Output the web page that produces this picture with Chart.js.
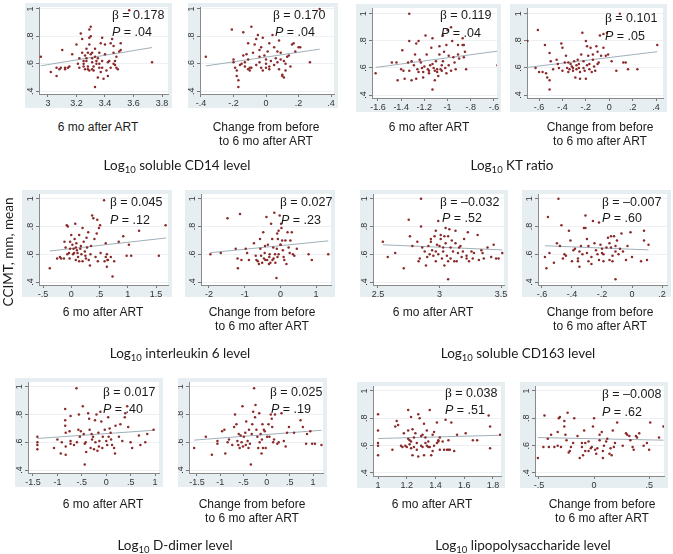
<!DOCTYPE html>
<html><head><meta charset="utf-8">
<script src="https://cdn.jsdelivr.net/npm/chart.js@4.4.1/dist/chart.umd.min.js"></script>
<style>
body{margin:0;width:673px;height:554px;position:relative;background:#fff;overflow:hidden;font-family:"Liberation Sans",Arial,sans-serif;color:#1a1a1a}
canvas{position:absolute}
.t{position:absolute;white-space:nowrap;font-size:12px;transform:translate(-50%,-50%);text-align:center;line-height:14px}
.ann{position:absolute;white-space:nowrap;font-size:12.5px;transform:translateY(-50%)}
.ann .b{font-family:"Liberation Serif","DejaVu Serif",serif;font-size:13.5px}
.title{position:absolute;white-space:nowrap;font-family:Lato,"Open Sans",sans-serif;font-size:13.5px;transform:translate(-50%,-50%)}
.title sub{font-size:9.5px;vertical-align:-3px;line-height:0}
.ylab{position:absolute;white-space:nowrap;font-family:Lato,"Open Sans",sans-serif;font-size:13.5px;transform:translate(-50%,-50%) rotate(-90deg)}
</style></head><body>
<script>
// ---------------- DATA ----------------
const yTicks = [0.4, 0.6, 0.8, 1];

const sCD14_6mo = [[2.95,0.65],[3.02,0.54],[3.06,0.57],[3.06,0.51],[3.08,0.56],[3.09,0.57],[3.10,0.70],[3.12,0.57],[3.14,0.57],[3.17,0.67],[3.20,0.74],[3.22,0.64],[3.22,0.57],[3.23,0.82],[3.24,0.78],[3.24,0.68],[3.25,0.62],[3.25,0.60],[3.26,0.56],[3.27,0.71],[3.27,0.64],[3.27,0.62],[3.28,0.58],[3.28,0.56],[3.29,0.55],[3.29,0.85],[3.30,0.87],[3.30,0.80],[3.29,0.79],[3.29,0.74],[3.30,0.67],[3.31,0.64],[3.31,0.61],[3.32,0.58],[3.32,0.55],[3.33,0.71],[3.33,0.65],[3.34,0.62],[3.34,0.60],[3.35,0.50],[3.36,0.68],[3.36,0.57],[3.37,0.75],[3.37,0.54],[3.38,0.62],[3.38,0.57],[3.39,0.49],[3.40,0.67],[3.40,0.74],[3.41,0.55],[3.42,0.51],[3.43,0.62],[3.44,0.57],[3.44,0.75],[3.45,0.78],[3.46,0.60],[3.46,0.68],[3.47,0.59],[3.47,0.62],[3.48,0.65],[3.48,0.57],[3.49,0.56],[3.50,0.69],[3.51,0.75],[3.51,0.70],[3.33,0.43],[3.73,0.61],[3.46,0.73],[3.38,0.79],[3.31,0.68],[3.26,0.66],[3.21,0.60],[3.15,0.58],[3.12,0.56],[3.35,0.64],[3.28,0.68],[3.42,0.61],[3.31,0.56],[3.25,0.58],[3.36,0.60],[3.57,0.99]];
const sCD14_chg = [[-0.37,0.65],[-0.21,0.85],[-0.14,0.83],[-0.09,0.87],[-0.20,0.63],[-0.20,0.61],[-0.19,0.57],[-0.18,0.55],[-0.18,0.51],[-0.17,0.48],[-0.17,0.43],[-0.14,0.66],[-0.13,0.61],[-0.12,0.67],[-0.11,0.63],[-0.11,0.75],[-0.11,0.56],[-0.10,0.57],[-0.10,0.55],[-0.09,0.57],[-0.07,0.74],[-0.06,0.78],[-0.05,0.81],[-0.04,0.70],[-0.04,0.65],[-0.04,0.61],[-0.03,0.57],[-0.02,0.55],[-0.02,0.79],[-0.01,0.66],[0.00,0.63],[0.00,0.60],[0.00,0.57],[0.01,0.69],[0.02,0.75],[0.02,0.58],[0.02,0.56],[0.04,0.81],[0.05,0.72],[0.06,0.64],[0.07,0.61],[0.07,0.69],[0.08,0.56],[0.08,0.77],[0.09,0.63],[0.10,0.51],[0.10,0.52],[0.11,0.50],[0.12,0.60],[0.12,0.55],[0.13,0.65],[0.14,0.66],[0.15,0.58],[0.16,0.74],[0.17,0.75],[0.18,0.69],[0.20,0.72],[0.21,0.72],[0.27,0.61],[0.33,1.00],[-0.16,0.59],[-0.06,0.59],[0.03,0.62],[-0.13,0.58],[0.05,0.59],[-0.08,0.68],[0.11,0.62],[-0.15,0.60],[0.09,0.68],[-0.03,0.72]];
const kt_6mo = [[-1.62,0.56],[-1.48,0.64],[-1.44,0.64],[-1.43,0.51],[-1.40,0.59],[-1.39,0.73],[-1.38,0.58],[-1.37,0.52],[-1.33,1.00],[-1.34,0.64],[-1.33,0.80],[-1.33,0.58],[-1.31,0.65],[-1.31,0.51],[-1.29,0.62],[-1.28,0.70],[-1.27,0.78],[-1.27,0.52],[-1.26,0.59],[-1.25,0.80],[-1.24,0.66],[-1.23,0.64],[-1.22,0.60],[-1.21,0.57],[-1.21,0.53],[-1.19,0.84],[-1.18,0.70],[-1.17,0.59],[-1.16,0.58],[-1.16,0.56],[-1.14,0.75],[-1.13,0.82],[-1.13,0.63],[-1.12,0.60],[-1.11,0.51],[-1.11,0.58],[-1.10,0.65],[-1.09,0.59],[-1.09,0.57],[-1.08,0.54],[-1.13,0.44],[-1.07,0.76],[-1.07,0.70],[-1.06,0.59],[-1.05,0.58],[-1.04,0.84],[-1.04,0.65],[-1.03,0.72],[-1.02,0.60],[-1.01,0.56],[-1.01,0.77],[-1.00,0.88],[-0.99,0.69],[-0.99,0.62],[-0.97,0.90],[-0.96,0.80],[-0.95,0.68],[-0.94,0.64],[-0.93,0.59],[-0.91,0.77],[-0.91,0.70],[-0.90,0.67],[-0.87,0.77],[-0.87,0.82],[-0.86,0.77],[-0.85,0.72],[-0.84,0.59],[-0.86,0.68],[-0.57,0.62],[-1.15,0.62],[-1.05,0.62],[-1.20,0.61],[-0.97,0.58],[-1.25,0.57]];
const kt_chg = [[-0.70,0.80],[-0.61,0.88],[-0.63,0.60],[-0.60,0.57],[-0.57,0.57],[-0.55,0.77],[-0.54,0.56],[-0.53,0.53],[-0.51,0.71],[-0.51,0.51],[-0.51,0.44],[-0.50,0.65],[-0.48,0.59],[-0.45,0.66],[-0.44,0.63],[-0.43,0.60],[-0.41,0.78],[-0.40,0.58],[-0.40,0.75],[-0.38,0.64],[-0.37,0.69],[-0.36,0.60],[-0.35,0.64],[-0.35,0.57],[-0.34,0.59],[-0.33,0.63],[-0.31,0.60],[-0.31,0.58],[-0.30,0.65],[-0.29,0.53],[-0.28,0.62],[-0.28,0.59],[-0.27,0.66],[-0.26,0.60],[-0.25,0.57],[-0.25,0.52],[-0.24,0.70],[-0.23,0.86],[-0.22,0.65],[-0.22,0.60],[-0.21,0.58],[-0.20,0.52],[-0.20,0.80],[-0.19,0.76],[-0.18,0.69],[-0.17,0.63],[-0.17,0.59],[-0.16,0.75],[-0.15,0.57],[-0.14,0.66],[-0.14,0.70],[-0.12,0.58],[-0.11,0.76],[-0.10,0.72],[-0.10,0.63],[-0.09,0.64],[-0.08,0.84],[-0.07,0.69],[-0.05,0.85],[-0.05,0.75],[-0.03,0.69],[-0.02,0.86],[-0.01,0.70],[0.02,0.65],[0.06,0.58],[0.09,1.00],[0.12,0.64],[0.14,0.64],[0.16,0.59],[0.24,0.59],[0.41,0.77],[-0.26,0.63],[-0.32,0.61],[-0.19,0.62],[-0.13,0.61]];
const il6_6mo = [[-0.38,0.50],[-0.25,0.57],[-0.20,0.58],[-0.18,0.57],[-0.12,0.69],[-0.13,0.57],[-0.10,0.65],[-0.08,0.81],[-0.07,0.60],[-0.06,0.80],[-0.04,0.61],[-0.02,0.64],[-0.02,0.69],[0.00,0.74],[0.02,0.67],[0.04,0.64],[0.05,0.61],[0.06,0.71],[0.07,0.82],[0.08,0.65],[0.09,0.68],[0.11,0.61],[0.12,0.58],[0.14,0.74],[0.14,0.55],[0.17,0.66],[0.18,0.60],[0.20,0.79],[0.20,0.55],[0.22,0.69],[0.24,0.62],[0.25,0.59],[0.27,0.72],[0.28,0.65],[0.30,0.76],[0.31,0.56],[0.33,0.52],[0.34,0.60],[0.37,0.88],[0.39,0.86],[0.41,0.71],[0.43,0.58],[0.45,0.75],[0.46,0.85],[0.47,0.55],[0.49,0.79],[0.51,0.81],[0.52,0.61],[0.59,0.55],[0.61,0.68],[0.63,0.60],[0.64,0.56],[0.58,0.99],[0.61,0.58],[0.63,0.51],[0.65,0.56],[0.70,0.58],[0.73,0.44],[0.76,0.55],[0.84,0.69],[0.92,0.73],[0.98,0.59],[1.02,0.67],[1.06,0.59],[1.20,0.77],[1.55,0.59],[1.67,0.81],[0.10,0.63],[0.03,0.60],[0.16,0.64],[-0.03,0.57],[0.26,0.57],[0.08,0.56],[0.35,0.66]];
const il6_chg = [[-1.96,0.60],[-1.67,0.61],[-1.48,0.86],[-1.13,0.89],[-1.25,0.64],[-1.20,0.57],[-1.19,0.50],[-1.09,0.56],[-0.97,0.64],[-0.93,0.61],[-0.88,0.56],[-0.74,0.68],[-0.69,0.59],[-0.67,0.56],[-0.63,0.55],[-0.60,0.53],[-0.57,0.71],[-0.56,0.64],[-0.54,0.59],[-0.51,0.54],[-0.48,0.76],[-0.46,0.57],[-0.44,0.61],[-0.42,0.56],[-0.39,0.87],[-0.37,0.56],[-0.35,0.67],[-0.32,0.53],[-0.30,0.60],[-0.28,0.54],[-0.26,0.82],[-0.23,0.71],[-0.20,0.65],[-0.19,0.57],[-0.17,0.90],[-0.14,0.54],[-0.11,0.43],[-0.09,0.75],[-0.07,0.71],[-0.05,0.77],[-0.05,0.60],[-0.02,0.88],[0.00,0.67],[0.02,0.82],[0.05,0.70],[0.07,0.63],[0.09,0.58],[0.11,0.56],[0.14,0.70],[0.17,0.53],[0.20,0.76],[0.23,0.65],[0.26,0.61],[0.28,0.70],[0.32,0.76],[0.35,0.60],[0.39,0.59],[0.46,0.64],[0.79,0.60],[0.88,0.56],[1.34,0.60],[-0.10,0.64],[-0.15,0.60],[0.03,0.79],[-0.31,0.58],[-0.43,0.66],[-0.22,0.56],[0.01,0.67],[-0.08,0.58]];
const sCD163_6mo = [[2.54,0.69],[2.58,0.58],[2.64,0.61],[2.71,0.50],[2.75,0.85],[2.76,0.73],[2.78,0.66],[2.82,0.69],[2.83,0.55],[2.84,0.57],[2.85,1.00],[2.85,0.80],[2.86,0.65],[2.88,0.62],[2.89,0.52],[2.90,0.58],[2.91,0.66],[2.92,0.60],[2.93,0.71],[2.93,0.69],[2.94,0.63],[2.95,0.59],[2.96,0.73],[2.97,0.55],[2.97,0.77],[2.98,0.67],[2.99,0.84],[2.99,0.60],[3.00,0.66],[3.01,0.74],[3.01,0.71],[3.02,0.57],[3.03,0.65],[3.04,0.52],[3.04,0.73],[3.05,0.79],[3.05,0.68],[3.06,0.59],[3.07,0.42],[3.07,0.55],[3.07,0.73],[3.08,0.78],[3.09,0.65],[3.09,0.57],[3.11,0.62],[3.12,0.55],[3.13,0.68],[3.13,0.77],[3.14,0.55],[3.15,0.61],[3.16,0.65],[3.18,0.58],[3.19,0.62],[3.20,0.71],[3.22,0.57],[3.22,0.59],[3.23,0.76],[3.24,0.55],[3.26,0.62],[3.27,0.57],[3.28,0.61],[3.31,0.74],[3.32,0.56],[3.34,0.63],[3.35,0.61],[3.36,0.57],[3.39,0.65],[3.42,0.58],[3.44,0.67],[3.46,0.57],[3.48,0.57],[3.51,0.61],[3.03,0.62],[2.97,0.62],[3.10,0.70],[3.17,0.66]];
const sCD163_chg = [[-0.58,0.58],[-0.57,0.50],[-0.56,0.87],[-0.55,0.61],[-0.52,0.54],[-0.50,0.68],[-0.49,1.00],[-0.48,0.66],[-0.47,0.81],[-0.46,0.57],[-0.45,0.60],[-0.42,0.77],[-0.41,0.70],[-0.40,0.55],[-0.39,0.63],[-0.38,0.64],[-0.36,0.55],[-0.36,0.57],[-0.35,0.51],[-0.34,0.66],[-0.33,0.60],[-0.32,0.79],[-0.31,0.88],[-0.31,0.79],[-0.30,0.61],[-0.30,0.71],[-0.29,0.55],[-0.29,0.66],[-0.27,0.53],[-0.27,0.58],[-0.26,0.84],[-0.25,0.68],[-0.24,0.63],[-0.23,0.60],[-0.22,0.56],[-0.22,0.83],[-0.21,0.67],[-0.20,0.61],[-0.19,0.60],[-0.19,0.55],[-0.17,0.65],[-0.16,0.72],[-0.15,0.68],[-0.15,0.56],[-0.14,0.73],[-0.14,0.65],[-0.13,0.59],[-0.13,0.55],[-0.12,0.73],[-0.11,0.62],[-0.11,0.42],[-0.11,0.66],[-0.10,0.70],[-0.09,0.60],[-0.07,0.75],[-0.06,0.62],[-0.04,0.56],[-0.03,0.66],[-0.01,0.76],[0.00,0.58],[0.06,0.55],[0.08,0.77],[0.08,0.70],[0.10,0.56],[0.11,0.67],[-0.20,0.64],[-0.35,0.62],[-0.44,0.59],[-0.08,0.64]];
const ddimer_6mo = [[-1.41,0.64],[-1.41,0.60],[-1.41,0.58],[-1.41,0.55],[-1.07,0.56],[-1.00,0.62],[-0.93,0.52],[-0.91,0.60],[-0.84,0.84],[-0.84,0.76],[-0.84,0.72],[-0.83,0.67],[-0.83,0.57],[-0.83,0.51],[-0.75,0.68],[-0.73,0.61],[-0.73,0.59],[-0.73,0.79],[-0.66,0.58],[-0.61,0.99],[-0.57,0.69],[-0.56,0.80],[-0.54,0.64],[-0.52,0.68],[-0.48,0.86],[-0.46,0.66],[-0.44,0.59],[-0.42,0.60],[-0.41,0.53],[-0.37,0.81],[-0.35,0.77],[-0.34,0.69],[-0.32,0.56],[-0.30,0.66],[-0.29,0.62],[-0.25,0.55],[-0.23,0.76],[-0.22,0.60],[-0.20,0.80],[-0.18,0.54],[-0.16,0.67],[-0.15,0.57],[-0.14,0.61],[-0.12,0.82],[-0.10,0.75],[-0.08,0.56],[-0.07,0.64],[-0.03,0.69],[0.00,0.61],[0.02,0.58],[0.04,0.78],[0.05,0.64],[0.07,0.70],[0.09,0.67],[0.12,0.58],[0.16,0.56],[0.18,0.52],[0.19,0.72],[-0.44,0.44],[0.26,0.64],[0.29,0.73],[0.33,0.61],[0.38,0.78],[0.39,0.81],[0.43,0.86],[0.45,0.71],[0.50,0.60],[0.53,0.56],[0.67,0.65],[0.70,0.58],[0.80,0.60],[0.84,0.66],[0.97,0.69],[-0.60,0.60],[-0.27,0.64],[0.10,0.62]];
const ddimer_chg = [[-1.56,0.56],[-1.31,0.64],[-1.18,0.51],[-1.06,0.61],[-1.06,0.59],[-0.96,0.68],[-0.91,0.69],[-0.89,0.52],[-0.84,0.60],[-0.81,0.62],[-0.74,0.58],[-0.70,0.71],[-0.68,0.80],[-0.65,0.73],[-0.63,0.61],[-0.61,0.58],[-0.58,0.56],[-0.56,0.65],[-0.54,0.60],[-0.52,0.86],[-0.51,0.57],[-0.49,0.64],[-0.46,0.67],[-0.44,0.75],[-0.41,0.61],[-0.39,0.56],[-0.38,0.69],[-0.36,0.59],[-0.34,0.44],[-0.32,0.66],[-0.31,0.73],[-0.29,0.82],[-0.27,0.99],[-0.25,0.78],[-0.24,0.87],[-0.22,0.69],[-0.20,0.64],[-0.18,0.56],[-0.16,0.81],[-0.15,0.60],[-0.13,0.66],[-0.11,0.52],[-0.09,0.73],[-0.08,0.56],[-0.06,0.69],[-0.04,0.68],[-0.02,0.56],[0.01,0.64],[0.04,0.73],[0.06,0.64],[0.09,0.80],[0.11,0.77],[0.12,0.71],[0.14,0.60],[0.16,0.62],[0.18,0.80],[0.23,0.59],[0.26,0.60],[0.32,0.81],[0.37,0.61],[0.41,0.57],[0.44,0.67],[0.48,0.71],[0.59,0.67],[0.73,0.76],[0.78,0.71],[0.85,0.59],[0.87,0.66],[0.94,0.68],[0.98,0.59],[1.04,0.59],[1.18,0.58],[-0.45,0.58],[-0.10,0.62],[-0.60,0.66]];
const lps_6mo = [[1.00,0.83],[1.00,0.71],[1.00,0.62],[1.00,0.60],[1.00,0.53],[1.10,0.57],[1.12,0.74],[1.13,0.78],[1.14,0.75],[1.16,0.60],[1.17,0.59],[1.18,0.69],[1.19,0.60],[1.20,0.59],[1.21,0.71],[1.21,0.86],[1.21,0.65],[1.22,0.64],[1.23,0.63],[1.23,0.58],[1.23,0.81],[1.24,0.72],[1.24,0.53],[1.25,0.66],[1.25,0.59],[1.26,0.69],[1.27,0.57],[1.28,0.83],[1.28,0.52],[1.29,0.80],[1.30,0.67],[1.30,0.60],[1.31,0.68],[1.31,0.59],[1.32,0.76],[1.32,0.53],[1.33,0.66],[1.34,0.60],[1.34,0.71],[1.35,0.59],[1.35,0.63],[1.36,0.86],[1.36,0.59],[1.37,0.53],[1.38,0.56],[1.38,0.68],[1.39,0.70],[1.39,0.60],[1.41,0.77],[1.41,0.62],[1.42,0.64],[1.42,0.63],[1.43,0.57],[1.43,0.66],[1.45,0.63],[1.46,0.57],[1.47,0.79],[1.48,0.57],[1.49,0.64],[1.49,0.57],[1.50,0.57],[1.51,0.77],[1.53,0.56],[1.55,0.68],[1.61,0.69],[1.66,0.64],[1.69,0.64],[1.77,0.82],[1.78,0.58],[1.78,0.74],[1.85,0.68],[1.27,0.62],[1.33,0.62],[1.22,0.61]];
const lps_chg = [[-0.51,0.51],[-0.46,0.59],[-0.45,0.82],[-0.41,0.59],[-0.39,0.68],[-0.36,0.59],[-0.33,0.70],[-0.33,0.60],[-0.32,0.80],[-0.31,0.81],[-0.30,0.59],[-0.27,0.78],[-0.27,0.74],[-0.26,0.68],[-0.25,0.64],[-0.24,0.84],[-0.23,0.55],[-0.22,0.56],[-0.21,0.59],[-0.18,0.80],[-0.15,0.67],[-0.13,0.51],[-0.11,0.62],[-0.11,0.59],[-0.10,0.53],[-0.09,0.71],[-0.08,0.56],[-0.08,0.62],[-0.05,0.56],[-0.05,0.63],[-0.03,0.58],[-0.02,0.59],[-0.01,0.74],[0.00,0.80],[0.01,0.57],[0.02,0.54],[0.03,0.58],[0.05,0.64],[0.05,0.68],[0.07,0.70],[0.08,0.51],[0.08,0.56],[0.09,0.60],[0.11,0.63],[0.14,0.54],[0.15,0.58],[0.16,0.53],[0.17,0.71],[0.18,0.59],[0.19,0.62],[0.21,0.77],[0.26,0.60],[0.29,0.69],[0.30,0.68],[0.32,0.67],[0.33,0.64],[0.35,0.59],[0.36,0.57],[0.38,0.67],[0.39,0.66],[0.41,0.69],[0.45,0.60],[0.48,0.62],[0.50,0.57],[0.51,0.77],[0.59,0.66],[0.63,0.74],[-0.42,0.65],[-0.19,0.62],[0.12,0.65]];

// fitted-line endpoints
const fits = [
  [[2.95,0.585],[3.73,0.718]], [[-0.37,0.584],[0.33,0.706]],
  [[-1.62,0.604],[-0.57,0.724]], [[-0.70,0.604],[0.41,0.720]],
  [[-0.38,0.624],[1.68,0.718]], [[-1.96,0.612],[1.34,0.697]],
  [[2.54,0.669],[3.51,0.632]], [[-0.58,0.662],[0.11,0.632]],
  [[-1.41,0.628],[0.97,0.687]], [[-1.56,0.616],[1.18,0.687]],
  [[1.00,0.652],[1.85,0.676]], [[-0.51,0.659],[0.63,0.640]]
];
const betas = ["0.178","0.170","0.119","0.101","0.045","0.027","\u20130.032","\u20130.007","0.017","0.025","0.038","\u20130.008"];
const pvals = [".04",".04",".04",".05",".12",".23",".52",".60",".40",".19",".51",".62"];
const xTicks = [
  [3,3.2,3.4,3.6,3.8], [-0.4,-0.2,0,0.2,0.4],
  [-1.6,-1.4,-1.2,-1,-0.8,-0.6], [-0.6,-0.4,-0.2,0,0.2,0.4],
  [-0.5,0,0.5,1,1.5], [-2,-1,0,1],
  [2.5,3,3.5], [-0.6,-0.4,-0.2,0,0.2],
  [-1.5,-1,-0.5,0,0.5,1], [-1.5,-1,-0.5,0,0.5,1],
  [1,1.2,1.4,1.6,1.8], [-0.5,0,0.5]
];
const series = [sCD14_6mo,sCD14_chg,kt_6mo,kt_chg,il6_6mo,il6_chg,sCD163_6mo,sCD163_chg,ddimer_6mo,ddimer_chg,lps_6mo,lps_chg];
const subLabels = ["6 mo after ART","Change from before<br>to 6 mo after ART"];
const groupTitles = ["soluble CD14 level","KT ratio","interleukin 6 level","soluble CD163 level","D-dimer level","lipopolysaccharide level"];

// ---------------- LAYOUT (positions only) ----------------
// f: frame [l,t,r,b]; p: plot area [l,t,r,b]; xr/yr: axis ranges
const layout = [
 {f:[25,3,172,108], p:[39,4,169,94], xr:[2.937,3.842], yr:[0.379,1.014], a:[112,15,112,32], s:[98,127]},
 {f:[188,3,338,108], p:[200,4,335,94], xr:[-0.406,0.418], yr:[0.379,1.014], a:[273,15,275,32], s:[266,134]},
 {f:[356,4,501,112], p:[372,6,498,98], xr:[-1.651,-0.574], yr:[0.378,1.043], a:[440,15,441,33], s:[429,127]},
 {f:[510,4,667,112], p:[527,6,663,98], xr:[-0.703,0.459], yr:[0.378,1.043], a:[605,18,605,36], s:[600,134]},
 {f:[22,190,172,297], p:[39,192,168,285], xr:[-0.571,1.712], yr:[0.379,1.035], a:[110,202,110,220], s:[103,312]},
 {f:[185,190,335,297], p:[201,192,332,285], xr:[-2.222,1.417], yr:[0.379,1.035], a:[280,202,281,220], s:[262,319]},
 {f:[360,190,508,297], p:[373,192,505,285], xr:[2.46,3.524], yr:[0.379,1.035], a:[440,202,442,218], s:[433,312]},
 {f:[522,190,671,297], p:[538,192,668,285], xr:[-0.626,0.233], yr:[0.379,1.035], a:[602,202,602,218], s:[600,319]},
 {f:[15,378,163,487], p:[28,380,160,473], xr:[-1.602,1.081], yr:[0.379,1.035], a:[103,392,103,409], s:[103,504]},
 {f:[178,378,327,487], p:[189,380,323,473], xr:[-1.672,1.214], yr:[0.379,1.035], a:[270,392,271,409], s:[252,511]},
 {f:[357,382,505,488], p:[373,385,501,476], xr:[0.965,1.856], yr:[0.378,1.036], a:[445,393,445,410], s:[432,504]},
 {f:[520,382,668,488], p:[535,385,665,476], xr:[-0.536,0.635], yr:[0.378,1.036], a:[602,394,602,412], s:[602,511]}
];
const titlePos = [[177,165],[512,165],[180,353],[518,353],[175,545],[523,545]];

const FRAME = '#e7eef1', DOT = '#8b2a2a', FIT = '#9fb0b9';
const fmt = v => { let s = (Math.round(v*10)/10).toString(); return s.replace(/^(-?)0\./,'$1.'); };

const bgPlugin = {
  id:'bg',
  beforeDraw(c){ const ctx=c.ctx, a=c.chartArea; ctx.save(); ctx.fillStyle=FRAME; ctx.fillRect(0,0,c.width,c.height); ctx.fillStyle='#fff'; ctx.fillRect(a.left,a.top,a.right-a.left,a.bottom-a.top); ctx.restore(); }
};
const yLabPlugin = {
  id:'ylab',
  afterDraw(c){ const ctx=c.ctx, y=c.scales.y; ctx.save(); ctx.fillStyle='#333'; ctx.font='9px "Liberation Sans", Arial, sans-serif'; ctx.textAlign='center'; ctx.textBaseline='middle';
    yTicks.forEach(v=>{ const py=y.getPixelForValue(v); ctx.save(); ctx.translate(y.right-8, py); ctx.rotate(-Math.PI/2); ctx.fillText(fmt(v),0,0); ctx.restore(); });
    ctx.restore(); }
};

function addDiv(cls, html, x, y){ const d=document.createElement('div'); d.className=cls; d.innerHTML=html; d.style.left=x+'px'; d.style.top=y+'px'; document.body.appendChild(d); return d; }

layout.forEach((L,i)=>{
  const [fl,ft,fr,fb]=L.f, [pl,pt,pr,pb]=L.p;
  const cv=document.createElement('canvas'); cv.width=fr-fl; cv.height=fb-ft; cv.style.left=fl+'px'; cv.style.top=ft+'px'; cv.style.width=(fr-fl)+'px'; cv.style.height=(fb-ft)+'px';
  document.body.appendChild(cv);
  const xt=xTicks[i];
  new Chart(cv,{
    type:'scatter',
    data:{datasets:[
      {data:series[i].map(d=>({x:d[0],y:d[1]})), pointRadius:1.25, pointBackgroundColor:DOT, pointBorderWidth:0, order:1},
      {data:fits[i].map(d=>({x:d[0],y:d[1]})), showLine:true, borderColor:FIT, borderWidth:1, pointRadius:0, order:2}
    ]},
    options:{
      responsive:false, animation:false, events:[], devicePixelRatio:1,
      layout:{padding:{top:pt-ft, right:fr-pr, left:0, bottom:0}},
      plugins:{legend:{display:false}, tooltip:{enabled:false}},
      scales:{
        x:{type:'linear', min:L.xr[0], max:L.xr[1],
           afterBuildTicks:s=>{s.ticks=xt.map(v=>({value:v}));},
           afterFit:s=>{s.height=fb-pb; s.paddingLeft=0; s.paddingRight=0;},
           grid:{drawOnChartArea:false, tickLength:3, tickColor:'#777', color:'#777'},
           border:{display:true, color:'#8a8a8a', width:1},
           ticks:{font:{size:9, family:'"Liberation Sans", Arial, sans-serif'}, color:'#333', padding:1, maxRotation:0, minRotation:0, autoSkip:false, callback:v=>fmt(v)}},
        y:{type:'linear', min:L.yr[0], max:L.yr[1],
           afterBuildTicks:s=>{s.ticks=yTicks.map(v=>({value:v}));},
           afterFit:s=>{s.width=pl-fl; s.paddingTop=0; s.paddingBottom=0;},
           grid:{drawOnChartArea:true, color:'#edf1f3', tickLength:3, tickColor:'#777'},
           border:{display:true, color:'#8a8a8a', width:1},
           ticks:{display:false}}
      }
    },
    plugins:[bgPlugin, yLabPlugin]
  });
  addDiv('ann','<span class="b">\u03b2</span> = '+betas[i], L.a[0], L.a[1]);
  addDiv('ann','<i>P</i> = '+pvals[i], L.a[2], L.a[3]);
  addDiv('t', subLabels[i%2], L.s[0], L.s[1]);
});
groupTitles.forEach((g,k)=>{ addDiv('title','Log<sub>10</sub> '+g, titlePos[k][0], titlePos[k][1]); });
addDiv('ylab','CCIMT, mm, mean', 8, 252);
</script>
</body></html>
